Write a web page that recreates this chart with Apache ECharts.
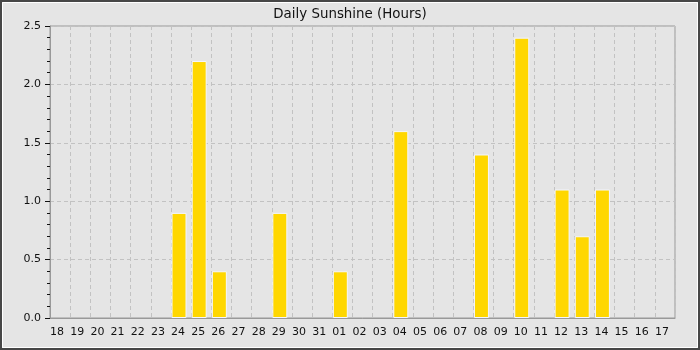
<!DOCTYPE html>
<html><head><meta charset="utf-8">
<script src="https://cdn.jsdelivr.net/npm/echarts@6/dist/echarts.min.js"></script>
<style>html,body{margin:0;padding:0;background:#e5e5e5}#c{width:700px;height:350px}</style>
</head><body><div id="c"></div>
<script>
const titleText = 'Daily Sunshine (Hours)';
const days = ['18','19','20','21','22','23','24','25','26','27','28','29','30','31','01','02','03','04','05','06','07','08','09','10','11','12','13','14','15','16','17'];
const sunshine = [0,0,0,0,0,0,0.9,2.2,0.4,0,0,0.9,0,0,0.4,0,0,1.6,0,0,0,1.4,0,2.4,0,1.1,0.7,1.1,0,0,0];
const yMin = 0, yMax = 2.5, yStep = 0.5;

const chart = echarts.init(document.getElementById('c'), null, {renderer:'canvas'});
const font = 'DejaVu Sans';
chart.setOption({
  animation: false,
  backgroundColor: '#e5e5e5',
  textStyle: {fontFamily: font},
  graphic: [
    {type:'rect', z:100, silent:true, shape:{x:1,y:1,width:698,height:348}, style:{fill:'none', stroke:'#474747', lineWidth:2}},
    {type:'rect', z:100, silent:true, shape:{x:2.5,y:2.5,width:695,height:345}, style:{fill:'none', stroke:'#ffffff', lineWidth:1}}
  ],
  title: {text: titleText, left: 'center', top: 3, textStyle:{fontFamily:font, fontSize:13.4, fontWeight:'normal', color:'#111'}},
  grid: {left: 50, right: 25, top: 26, bottom: 32, show: true, borderColor:'#999', borderWidth:1, backgroundColor:'transparent'},
  xAxis: {
    type:'category', data: days, boundaryGap: true,
    axisLine:{show:true, lineStyle:{color:'#999'}},
    axisTick:{show:false},
    axisLabel:{color:'#111', fontSize:11, fontFamily:font, margin:9, interval:0, padding:[0,6,0,0]},
    splitLine:{show:true, interval:0, lineStyle:{color:'#c2c2c2', type:[4,3]}}
  },
  yAxis: {
    type:'value', min:yMin, max:yMax, interval:yStep,
    axisLine:{show:true, lineStyle:{color:'#999'}},
    axisTick:{show:true, length:5, lineStyle:{color:'#111'}},
    minorTick:{show:true, splitNumber:5, length:3, lineStyle:{color:'#111'}},
    axisLabel:{color:'#111', fontSize:11, fontFamily:font, margin:9, formatter: v => v.toFixed(1)},
    splitLine:{show:true, lineStyle:{color:'#c2c2c2', type:[4,3]}}
  },
  series: [{
    type:'bar', data: sunshine.map(v => v === 0 ? '-' : v), barWidth: 15, barGap: '-73%',
    itemStyle:{color:'#ffd700', borderColor:'#f4f6ff', borderWidth:1}
  },{
    type:'bar', data: sunshine.map(() => '-'), barWidth: 15, silent:true,
    itemStyle:{color:'transparent'}
  }]
});
</script></body></html>
